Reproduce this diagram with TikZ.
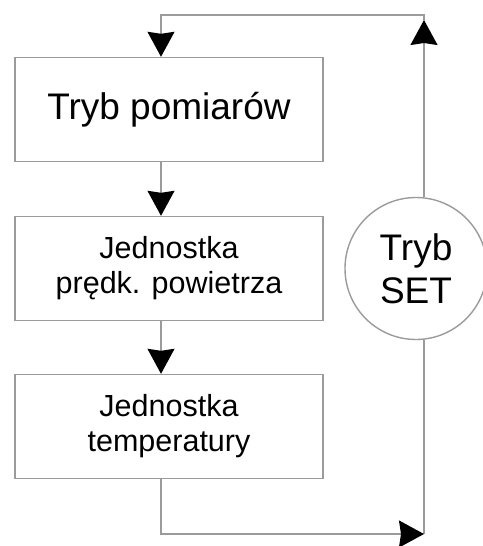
\documentclass[tikz,border=0pt]{standalone}
\usepackage{fontspec}
\setmainfont{Liberation Sans}
\usetikzlibrary{arrows.meta,positioning}
\definecolor{linegray}{RGB}{155,155,155}

\begin{document}
\begin{tikzpicture}[x=1pt,y=1pt,on grid,
  >={Stealth[length=25pt,width=27pt,inset=2pt,color=black]},
  line/.style={draw=linegray,line width=1.4pt},
  flow/.style={line,->},
  box/.style={draw=linegray,line width=1.4pt,fill=white,minimum width=308pt,
    minimum height=104pt,inner sep=0pt,align=center,
    font=\fontsize{30.5}{35}\selectfont},
  setnode/.style={circle,draw=linegray,line width=1.4pt,fill=white,
    minimum size=142pt,inner sep=0pt,align=center,
    font=\fontsize{37}{43}\selectfont}]
  \useasboundingbox (0,0) rectangle (482,-546);
  \node[box,font=\fontsize{37}{43}\selectfont] (pomiary) at (169,-109.5) {Tryb pomiarów};
  \node[box]    (predkosc)    [below=159pt of pomiary]  {Jednostka\\prędk. powietrza};
  \node[box]    (temperatura) [below=158pt of predkosc] {Jednostka\\temperatury};
  \coordinate   (lt) at (161,-15);
  \coordinate   (rt) at (424,-15);
  \coordinate   (rb) at (424,-534);
  % loop back on the right
  \draw[line] (rb) -- (rb |- 0,-340);
  \node[setnode] (set) [right=247pt of predkosc] {Tryb\\SET};
  \draw[flow] (set.north -| rb) -- ([yshift=-5pt]rt);
  \draw[flow] ([yshift=-5pt]rt) -- (rt) -- (lt) -- (pomiary.north -| lt);
  % steps
  \draw[flow] (pomiary.south -| lt)  -- (predkosc.north -| lt);
  \draw[flow] (predkosc.south -| lt) -- (temperatura.north -| lt);
  \draw[flow] (temperatura.south -| lt) |- (rb);
\end{tikzpicture}
\end{document}
